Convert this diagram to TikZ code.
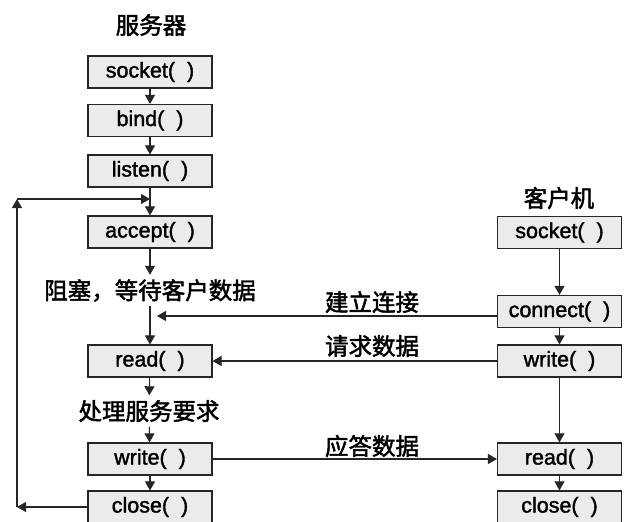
\documentclass[tikz,border=0pt]{standalone}
\usepackage{fontspec}
\setmainfont{Liberation Sans}[FakeBold=1.6]
\newfontfamily\cjk{Noto Sans CJK SC}[FakeBold=2]
\usetikzlibrary{arrows.meta}
\begin{document}
\begin{tikzpicture}[x=1pt,y=-1pt,
  fn/.style={draw=black!85,line width=1.2pt,fill=black!8,minimum width=124pt,minimum height=32pt,inner sep=0pt,font=\fontsize{21.5}{22}\selectfont},
  lbl/.style={inner sep=0pt,minimum height=31pt,font=\cjk\fontsize{23.5}{25}\selectfont},
  con/.style={line width=1.1pt,draw=black!85},
  arr/.style={con,-{Triangle[width=10pt,length=9pt]}}]
\useasboundingbox (0,0) rectangle (633,522);
\fill[white] (0,0) rectangle (633,522);
% titles
\node[lbl] (stitle) at (151,25) {服务器};
\node[lbl] (ctitle) at (559,198) {客户机};
% server
\node[fn] (ssock) at (150,72) {socket(\ \ )};
\node[fn] (sbind) at (150,120.5) {bind(\ \ )};
\node[fn] (slist) at (150,171) {listen(\ \ )};
\node[fn] (sacc) at (150,232) {accept(\ \ )};
\node[lbl] (block) at (150,290.5) {阻塞，等待客户数据};
\node[fn] (sread) at (150,361) {read(\ \ )};
\node[lbl] (proc) at (149,411) {处理服务要求};
\node[fn] (swrite) at (150,459) {write(\ \ )};
\node[fn] (sclose) at (150,507) {close(\ \ )};
% client
\node[fn] (csock) at (559.5,232.5) {socket(\ \ )};
\node[fn] (cconn) at (559.5,311.5) {connect(\ \ )};
\node[fn] (cwrite) at (559.5,361) {write(\ \ )};
\node[fn] (cread) at (559.5,459) {read(\ \ )};
\node[fn] (cclose) at (559.5,507) {close(\ \ )};
% labels
\node[lbl] (l1) at (372,302) {建立连接};
\node[lbl] (l2) at (372,346) {请求数据};
\node[lbl] (l3) at (372,446) {应答数据};
% coordinates
\coordinate (j1) at (157,316);
\coordinate (fbl) at (17,507);
\coordinate (fbt) at (17,199);
\coordinate (fbr) at (150,199);
% server arrows
\draw[arr] (ssock) -- (sbind);
\draw[arr] (sbind) -- (slist);
\draw[arr] (slist) -- (sacc);
\draw[arr] (sacc) -- (block);
\draw[arr] (block) -- (sread);
\draw[arr] (sread) -- (proc);
\draw[arr] (proc) -- (swrite);
\draw[arr] (swrite) -- (sclose);
% feedback
\draw[arr] (sclose.west) -- (fbl);
\draw[arr] (fbl) -- (fbt);
\draw[arr] (fbt) -- (fbr);
% client arrows
\draw[arr] (csock) -- (cconn);
\draw[arr] (cconn) -- (cwrite);
\draw[arr] (cwrite) -- (cread);
\draw[arr] (cread) -- (cclose);
% cross arrows
\draw[arr] (j1 -| cconn.west) -- (j1);
\draw[arr] (cwrite.west) -- (sread.east);
\draw[arr] (swrite.east) -- (cread.west);
\end{tikzpicture}
\end{document}
